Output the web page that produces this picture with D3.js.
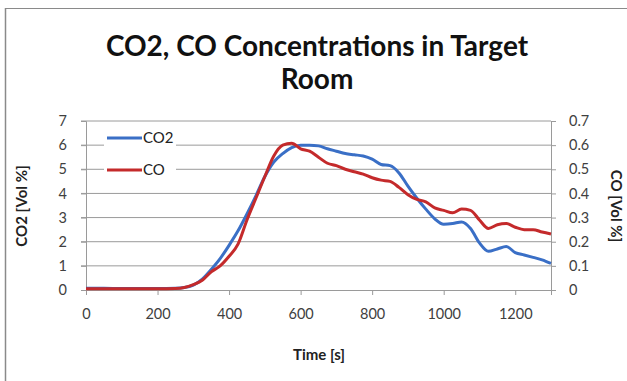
<!DOCTYPE html>
<html><head><meta charset="utf-8">
<script src="https://cdn.jsdelivr.net/npm/d3@7"></script>
<style>body{margin:0;background:#fff}svg{display:block}text{font-family:Lato,"Noto Sans",sans-serif}</style>
</head><body>
<svg id="c" width="627" height="381"></svg>
<script>
const time = [0,50,100,150,200,250,275,300,325,350,375,400,425,450,475,500,525,550,575,600,625,650,675,700,725,750,775,800,825,850,875,900,925,950,975,1000,1025,1050,1075,1100,1125,1150,1175,1200,1225,1250,1275,1300];
const co2 = [0.07,0.07,0.06,0.06,0.06,0.07,0.1,0.2,0.45,0.85,1.3,1.85,2.45,3.15,3.9,4.7,5.3,5.65,5.9,6.0,6.0,5.97,5.85,5.75,5.65,5.6,5.55,5.42,5.2,5.15,4.85,4.3,3.8,3.35,2.95,2.72,2.75,2.82,2.55,1.95,1.6,1.7,1.8,1.55,1.45,1.35,1.25,1.1];
const co = [0.005,0.005,0.005,0.005,0.005,0.006,0.01,0.022,0.04,0.075,0.1,0.14,0.19,0.29,0.38,0.47,0.555,0.6,0.608,0.585,0.575,0.55,0.525,0.515,0.5,0.49,0.48,0.465,0.455,0.45,0.425,0.395,0.375,0.365,0.34,0.33,0.32,0.335,0.33,0.29,0.255,0.27,0.275,0.26,0.25,0.25,0.24,0.232];
const xTicks = [0,200,400,600,800,1000,1200];
const leftTicks = [0,1,2,3,4,5,6,7];
const rightTicks = [0,0.1,0.2,0.3,0.4,0.5,0.6,0.7];
const titleLines = ["CO2, CO Concentrations in Target","Room"];
const seriesNames = ["CO2","CO"];

const svg = d3.select("#c");
const L=86, R=551, T=121, B=290;
const x = d3.scaleLinear().domain([0,1300]).range([L,R]);
const yL = d3.scaleLinear().domain([0,7]).range([B,T]);
const yR = d3.scaleLinear().domain([0,0.7]).range([B,T]);
const blue="#3a6fc6", red="#c42a2b", grid="#9a9a9a", txt="#404040";

// outer frame (top and left edges visible)
svg.append("line").attr("x1",5).attr("x2",627).attr("y1",8.5).attr("y2",8.5).attr("stroke","#8a8a8a").attr("stroke-width",1.2);
svg.append("line").attr("x1",5.5).attr("x2",5.5).attr("y1",8).attr("y2",381).attr("stroke","#8a8a8a").attr("stroke-width",1.5);

// title
svg.append("g").selectAll("text").data(titleLines).join("text")
  .attr("x",317).attr("y",(d,i)=>56+i*33).attr("text-anchor","middle")
  .attr("font-size",28).attr("font-weight","bold").attr("fill","#111").text(d=>d);

// gridlines
svg.append("g").selectAll("line").data(leftTicks.slice(1)).join("line")
  .attr("x1",L-5).attr("x2",R).attr("y1",d=>yL(d)).attr("y2",d=>yL(d))
  .attr("stroke",grid).attr("stroke-width",1);

// axes
const gx = svg.append("g").attr("transform",`translate(0,${B})`)
  .call(d3.axisBottom(x).tickValues(xTicks).tickSize(5).tickPadding(14).tickFormat(d3.format("d")));
const gl = svg.append("g").attr("transform",`translate(${L},0)`)
  .call(d3.axisLeft(yL).tickValues(leftTicks).tickSize(5).tickPadding(14).tickFormat(d3.format("d")));
const gr = svg.append("g").attr("transform",`translate(${R},0)`)
  .call(d3.axisRight(yR).tickValues(rightTicks).tickSize(5).tickPadding(13).tickFormat(d=>d===0?"0":d3.format(".1f")(d)));
[gx,gl,gr].forEach(g=>{
  g.select(".domain").attr("stroke",grid);
  g.selectAll(".tick line").attr("stroke",grid);
  g.selectAll(".tick text").attr("fill",txt).attr("font-size",14.5).attr("font-family","Lato,'Noto Sans',sans-serif");
});

// axis titles
svg.append("text").attr("transform","translate(27,206) rotate(-90)").attr("text-anchor","middle")
  .attr("font-size",15).attr("font-weight","bold").attr("fill","#222").text("CO2 [Vol %]");
svg.append("text").attr("transform","translate(611,206) rotate(90)").attr("text-anchor","middle")
  .attr("font-size",15).attr("font-weight","bold").attr("fill","#222").text("CO [Vol %]");
svg.append("text").attr("x",319).attr("y",360).attr("text-anchor","middle")
  .attr("font-size",15).attr("font-weight","bold").attr("fill","#222").text("Time [s]");

// lines
const lineL = d3.line().x((d,i)=>x(time[i])).y(d=>yL(d)).curve(d3.curveMonotoneX);
const lineR = d3.line().x((d,i)=>x(time[i])).y(d=>yR(d)).curve(d3.curveMonotoneX);
svg.append("path").attr("d",lineL(co2)).attr("fill","none").attr("stroke",blue).attr("stroke-width",3).attr("stroke-linejoin","round");
svg.append("path").attr("d",lineR(co)).attr("fill","none").attr("stroke",red).attr("stroke-width",3).attr("stroke-linejoin","round");

// legend
const lg = svg.append("g");
const legendY=[138,170], colors=[blue,red];
seriesNames.forEach((n,i)=>{
  lg.append("rect").attr("x",104).attr("y",legendY[i]-9).attr("width",72).attr("height",18).attr("fill","#fff");
  lg.append("line").attr("x1",107).attr("x2",142).attr("y1",legendY[i]).attr("y2",legendY[i]).attr("stroke",colors[i]).attr("stroke-width",3);
  lg.append("text").attr("x",143).attr("y",legendY[i]+5).attr("font-size",15).attr("fill","#222").text(n);
});
</script>
</body></html>
